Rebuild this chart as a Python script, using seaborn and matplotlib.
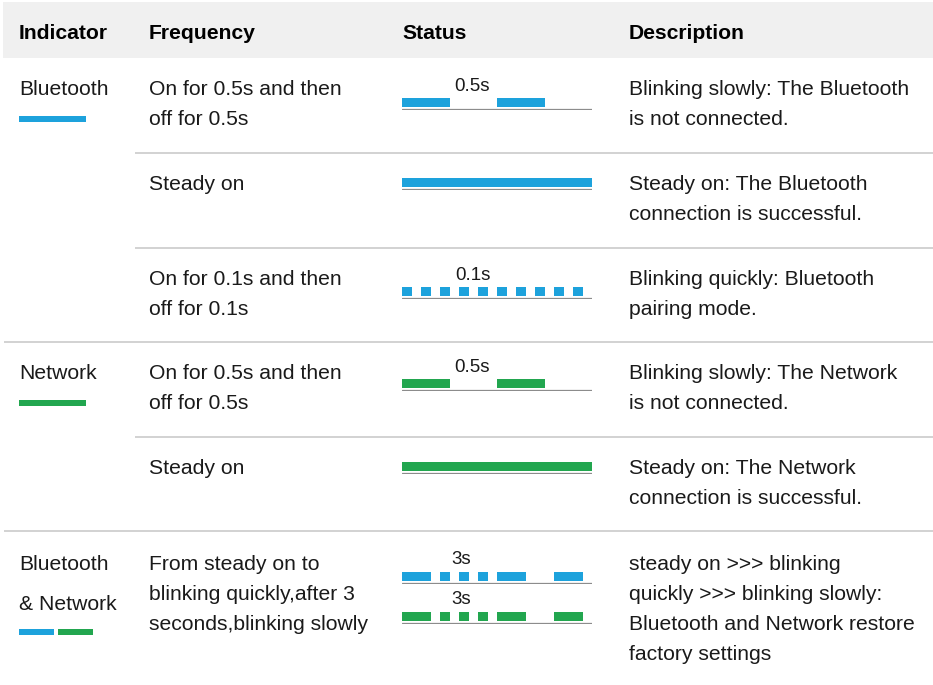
import matplotlib.pyplot as plt
from matplotlib.patches import Rectangle
import seaborn as sns

sns.set_theme(style="white")
plt.rcParams["font.family"] = ["Liberation Sans", "DejaVu Sans"]

# ---- table content -------------------------------------------------------
headers = ["Indicator", "Frequency", "Status", "Description"]

indicators = [["Bluetooth"], [], [], ["Network"], [], ["Bluetooth", "& Network"]]
indicator_leds = [["bt"], [], [], ["net"], [], ["bt", "net"]]

frequencies = [
    ["On for 0.5s and then", "off for 0.5s"],
    ["Steady on"],
    ["On for 0.1s and then", "off for 0.1s"],
    ["On for 0.5s and then", "off for 0.5s"],
    ["Steady on"],
    ["From steady on to", "blinking quickly,after 3", "seconds,blinking slowly"],
]

descriptions = [
    ["Blinking slowly: The Bluetooth", "is not connected."],
    ["Steady on: The Bluetooth", "connection is successful."],
    ["Blinking quickly: Bluetooth", "pairing mode."],
    ["Blinking slowly: The Network", "is not connected."],
    ["Steady on: The Network", "connection is successful."],
    ["steady on >>> blinking", "quickly >>> blinking slowly:",
     "Bluetooth and Network restore", "factory settings"],
]

# LED patterns: alternating on/off durations in seconds, starting with "on"
blink_slow = [0.5, 0.5, 0.5, 0.5]
steady_on = [2.0]
blink_fast = [0.1, 0.1, 0.1, 0.1, 0.1, 0.1, 0.1, 0.1, 0.1, 0.1,
              0.1, 0.1, 0.1, 0.1, 0.1, 0.1, 0.1, 0.1, 0.1, 0.1]
restore = [0.3, 0.1, 0.1, 0.1, 0.1, 0.1, 0.1, 0.1, 0.3, 0.3, 0.3, 0.1]

status_tracks = [
    [("bt", blink_slow, "0.5s")],
    [("bt", steady_on, "")],
    [("bt", blink_fast, "0.1s")],
    [("net", blink_slow, "0.5s")],
    [("net", steady_on, "")],
    [("bt", restore, "3s"), ("net", restore, "3s")],
]

# ---- layout (pixels) -----------------------------------------------------
W, H = 933, 685
led_colors = {"bt": "#1DA2DC", "net": "#22A64F"}
text_color = "#1a1a1a"
col_x = [19, 149, 402, 629]
row_tops = [58, 153, 248, 342, 437, 531]
group_start = [True, False, False, True, False, True]
track_lines = [[109], [189], [298], [390], [473], [583, 623]]
label_x = {"0.5s": 472, "0.1s": 473, "3s": 461}
line_gap = 30
fs = 15.2

fig = plt.figure(figsize=(W / 100, H / 100), dpi=100)
ax = fig.add_axes([0, 0, 1, 1])
ax.set_xlim(0, W)
ax.set_ylim(H, 0)
ax.axis("off")

# header band
ax.add_patch(Rectangle((3, 2), W - 3, 56, color="#f0f0f0", lw=0))
for x, h in zip(col_x, headers):
    ax.text(x, 33, h, fontsize=fs, fontweight="bold", color="black", va="center")

# row separators
for top, full in zip(row_tops[1:], group_start[1:]):
    ax.hlines(top, 4 if full else 135, W, color="#cfcfcf", lw=1.3)

for i, top in enumerate(row_tops):
    first = top + (33 if i == 5 else 31)

    # indicator column
    for j, name in enumerate(indicators[i]):
        ax.text(col_x[0], first + j * 40, name, fontsize=fs, color=text_color, va="center")
    if indicator_leds[i]:
        sw_y = top + (58 if len(indicators[i]) == 1 else 98)
        sw_w = 67 if len(indicator_leds[i]) == 1 else 35
        for k, led in enumerate(indicator_leds[i]):
            ax.add_patch(Rectangle((col_x[0] + k * 39, sw_y), sw_w, 6,
                                   color=led_colors[led], lw=0))

    for j, line in enumerate(frequencies[i]):
        ax.text(col_x[1], first + j * line_gap, line, fontsize=fs, color=text_color, va="center")
    for j, line in enumerate(descriptions[i]):
        ax.text(col_x[3], first + j * line_gap, line, fontsize=fs, color=text_color, va="center")

    # status timelines, each on its own small axes with a 0-2 s scale
    for (led, durations, label), base in zip(status_tracks[i], track_lines[i]):
        sub = fig.add_axes([col_x[2] / W, 1 - (base + 1) / H, 190 / W, 12 / H])
        sub.set_xlim(0, 2)
        sub.set_ylim(0, 12)
        ranges, t = [], 0.0
        for k, d in enumerate(durations):
            if k % 2 == 0:
                ranges.append((t, d))
            t += d
        sub.broken_barh(ranges, (3, 9), color=led_colors[led], lw=0)
        sub.axhline(1, color="#8c8c8c", lw=0.9)
        sub.axis("off")
        sns.despine(ax=sub, left=True, bottom=True)
        if label:
            ax.text(label_x[label], base - 23, label, fontsize=13.5, color=text_color,
                    ha="center", va="center")

fig.savefig("out.png", dpi=100)
